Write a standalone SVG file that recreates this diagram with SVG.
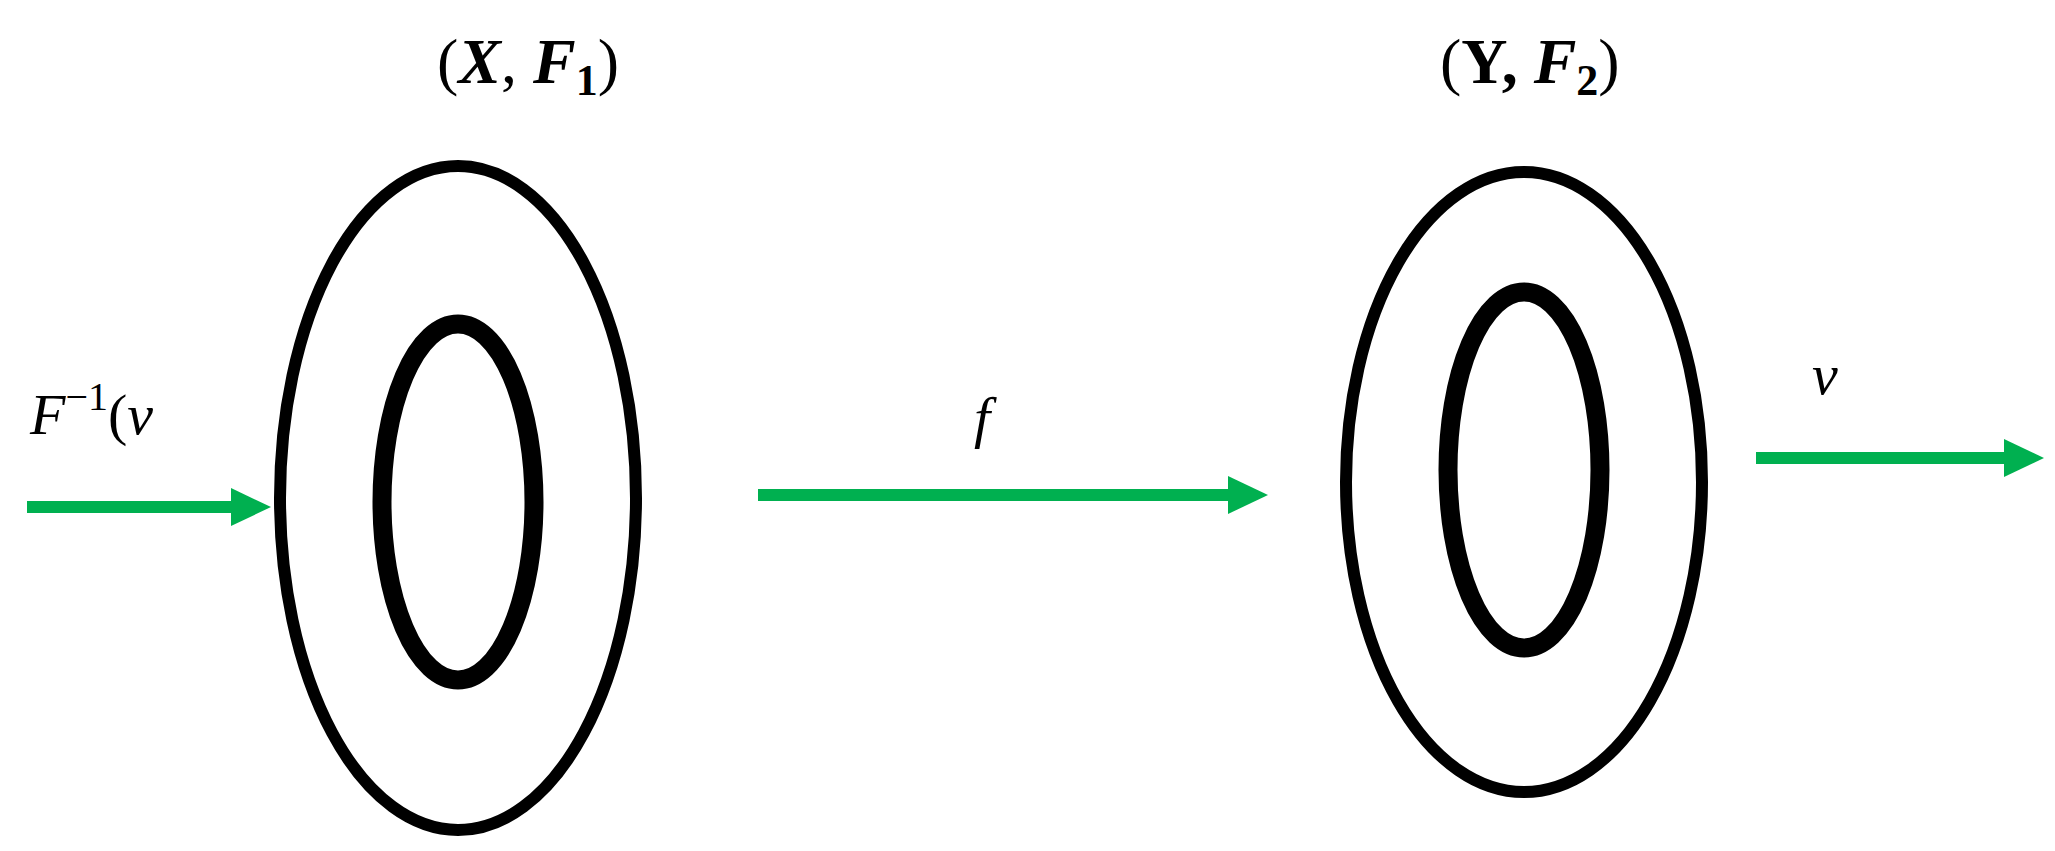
<svg xmlns="http://www.w3.org/2000/svg" width="2055" height="851" viewBox="0 0 2055 851">
<style>
.ring{fill:none;stroke:#000;stroke-width:12}
.inner{fill:none;stroke:#000;stroke-width:19}
.conn{stroke:#00B050;stroke-width:12;fill:none}
.math{font-family:"Liberation Serif","DejaVu Serif",serif;fill:#000}
</style>
<defs>
<marker id="ah" markerUnits="userSpaceOnUse" markerWidth="40" markerHeight="38" refX="0" refY="19" orient="auto">
<path d="M0,0 L40,19 L0,38 z" fill="#00B050"/>
</marker>
</defs>
<rect width="2055" height="851" fill="#fff"/>
<g id="nodeX">
<ellipse class="ring" cx="458" cy="498" rx="178" ry="332"/>
<ellipse class="inner" cx="458" cy="502" rx="76" ry="178"/>
<text class="math" x="437" y="83" font-size="64"><tspan>(</tspan><tspan font-weight="bold" font-style="italic">X</tspan><tspan>, </tspan><tspan font-weight="bold" font-style="italic">F</tspan><tspan font-size="44" dy="12" font-weight="bold">1</tspan><tspan dy="-12">)</tspan></text>
</g>
<g id="nodeY">
<ellipse class="ring" cx="1524" cy="482" rx="178" ry="310"/>
<ellipse class="inner" cx="1524" cy="470" rx="76" ry="178"/>
<text class="math" x="1440" y="83" font-size="64"><tspan>(</tspan><tspan font-weight="bold">Y</tspan><tspan font-weight="bold">, </tspan><tspan font-weight="bold" font-style="italic">F</tspan><tspan font-size="44" dy="12" font-weight="bold">2</tspan><tspan dy="-12">)</tspan></text>
</g>
<g id="connectors">
<path class="conn" d="M27,507 L231,507" marker-end="url(#ah)"/>
<path class="conn" d="M758,495 L1228,495" marker-end="url(#ah)"/>
<path class="conn" d="M1756,458 L2004,458" marker-end="url(#ah)"/>
</g>
<g id="labels">
<text class="math" x="30" y="434" font-size="58"><tspan font-style="italic">F</tspan><tspan font-size="40" dy="-24">−1</tspan><tspan dy="24">(</tspan><tspan font-style="italic">ν</tspan></text>
<text class="math" x="974" y="437" font-size="58" font-style="italic">f</text>
<text class="math" x="1812" y="394" font-size="58" font-style="italic">ν</text>
</g>
</svg>
